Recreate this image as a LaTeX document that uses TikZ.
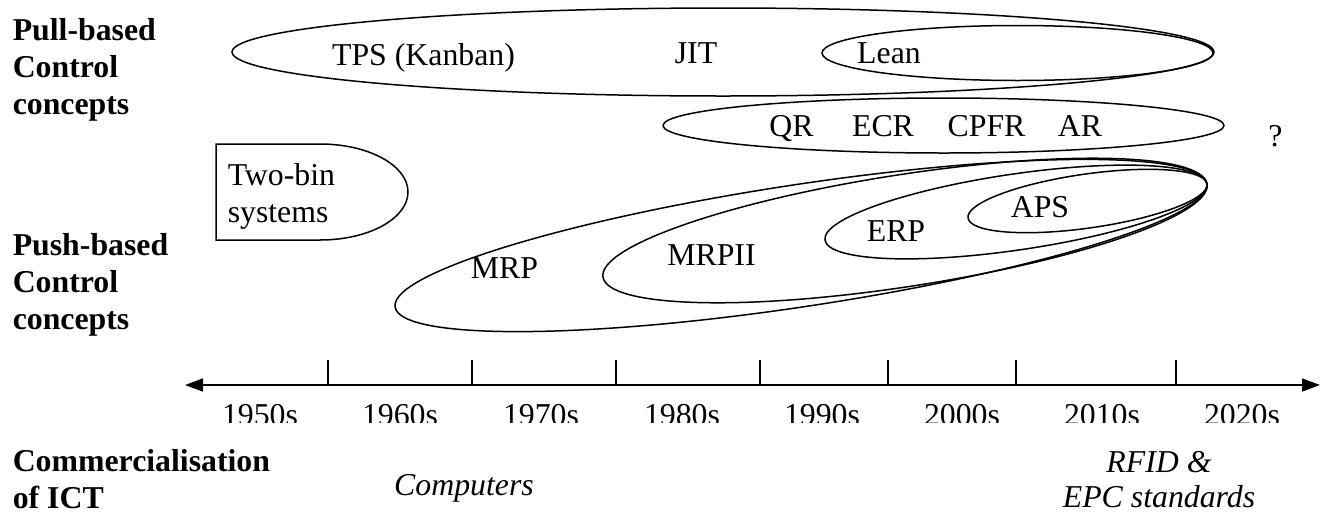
\documentclass[tikz,border=0pt]{standalone}
\usepackage{fontspec}
\setmainfont{Liberation Serif}
\usetikzlibrary{arrows.meta}

\begin{document}
\begin{tikzpicture}[x=1pt, y=-1pt, line width=1.5pt,
  lbl/.style={font=\fontsize{31.8}{37}\selectfont, inner sep=0pt, anchor=base},
  head/.style={lbl, font=\fontsize{31.8}{37}\selectfont\bfseries, align=left, anchor=base west},
  ict/.style={lbl, font=\fontsize{31.8}{35}\selectfont\itshape, align=center}]

\useasboundingbox (0,0) rectangle (1321,512);

% Row headings (placed at the baseline of their last line)
\node[head] (pull) at (12,114) {Pull-based\\Control\\concepts};
\node[head] (push) at (12,329) {Push-based\\Control\\concepts};
\node[head] (comm) at (12,508) {Commercialisation\\of ICT};

% Pull-based concepts
\draw (723,52) ellipse [x radius=491pt, y radius=44pt];
\draw (1017.5,53) ellipse [x radius=195.5pt, y radius=27.5pt];
\node[lbl] (tps) at (423.5,65) {TPS (Kanban)};
\node[lbl] (jit) at (696,63) {JIT};
\node[lbl] (lean) at (889,63) {Lean};

\draw (943.5,125.5) ellipse [x radius=280.5pt, y radius=27.5pt];
\node[lbl] (qr) at (791.5,136) {QR};
\node[lbl] (ecr) at (883,136) {ECR};
\node[lbl] (cpfr) at (986.5,136) {CPFR};
\node[lbl] (ar) at (1080,136) {AR};
\node[lbl] (next) at (1275.5,146) {?};

% Two-bin systems
\draw (320,144) -- (216,144) -- (216,240) -- (320,240)
  arc[start angle=-90, end angle=90, x radius=88pt, y radius=48pt];
\node[lbl, align=left, anchor=base west] (twobin) at (227,222) {Two-bin\\systems};

% Push-based concepts, all meeting at the right
\draw[rotate around={8.61:(801,245.5)}] (801,245.5) ellipse [x radius=410.6pt, y radius=61pt];
\draw[rotate around={8.75:(905,230.5)}] (905,230.5) ellipse [x radius=305.6pt, y radius=56pt];
\draw[rotate around={8.34:(1016,212)}] (1016,212) ellipse [x radius=193.1pt, y radius=38pt];
\draw[rotate around={8.10:(1087.5,201)}] (1087.5,201) ellipse [x radius=120.7pt, y radius=27pt];
\node[lbl] (mrp) at (504.5,278) {MRP};
\node[lbl] (mrpii) at (711.5,265) {MRPII};
\node[lbl] (erp) at (896,241) {ERP};
\node[lbl] (aps) at (1040,217) {APS};

% Time axis
\coordinate (tl) at (185,385);
\coordinate (tr) at (1320,385);
\draw[{Triangle[length=18pt,width=13pt]}-{Triangle[length=18pt,width=13pt]}] (tl) -- (tr);
\foreach \t in {328,472,616,760,888,1016,1176}
  \draw (\t,360) -- (\t,385);

% Decades (cut off at the bottom)
\begin{scope}
\clip (0,0) rectangle (1321,422);
\foreach \d/\cx in {1950/260,1960/400,1970/541,1980/682,1990/822,2000/962,2010/1102,2020/1242}
  \node[lbl] (d\d) at (\cx,425) {\d s};
\end{scope}

% ICT
\node[ict] (comp) at (464,495) {Computers};
\node[ict] (rfid) at (1159,507) {RFID \&\\EPC standards};

\end{tikzpicture}
\end{document}
